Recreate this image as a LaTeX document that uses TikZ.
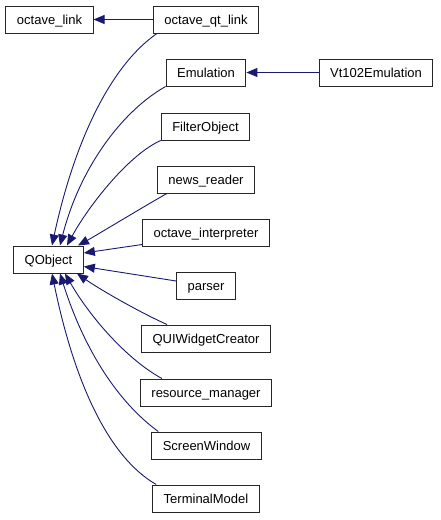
\documentclass[tikz,border=0pt]{standalone}
\usepackage{fontspec}
\setmainfont{Liberation Sans}
\usepackage{xcolor}
\usetikzlibrary{arrows.meta}
\definecolor{edgeblue}{HTML}{191970}

\begin{document}
\begin{tikzpicture}[x=1pt, y=-1pt,
  every node/.style={font=\fontsize{13}{15}\selectfont},
  cls/.style={draw=black!85, line width=1pt, fill=white, minimum height=27pt, inner xsep=11pt, inner ysep=0pt, text height=11.5pt, text depth=2.2pt},
  edge/.style={draw=edgeblue, line width=0.9pt, -{Triangle[length=11pt,width=9pt]}}
]
\useasboundingbox (0,0) rectangle (440,520);
% ---- base classes ----
\node[cls] (octlink) at (49.5,19.5) {octave\_link};
\node[cls] (qobject) at (48.5,259.5) {QObject};
% ---- derived classes ----
\node[cls] (qtlink) at (206,19.5) {octave\_qt\_link};
\node[cls] (emul) at (206,72.5) {Emulation};
\node[cls] (vt102) at (376,72.5) {Vt102Emulation};
\node[cls] (filter) at (205.5,126.5) {FilterObject};
\node[cls] (news) at (206,179.5) {news\_reader};
\node[cls] (interp) at (206,232.5) {octave\_interpreter};
\node[cls] (parser) at (206,285.5) {parser};
\node[cls] (quiw) at (206,338.5) {QUIWidgetCreator};
\node[cls] (resm) at (206,392.5) {resource\_manager};
\node[cls] (screen) at (206.5,445.5) {ScreenWindow};
\node[cls] (term) at (206,498.5) {TerminalModel};
% ---- straight edges ----
\draw[edge] (qtlink.west) -- (octlink.east);
\draw[edge] (vt102.west) -- (emul.east);
\draw[edge] ([yshift=2pt]interp.south west) -- ([yshift=6.5pt]qobject.east);
\draw[edge] ([yshift=4.5pt]parser.west) -- ([yshift=-7pt]qobject.east);
% ---- curved edges into QObject ----
\draw[edge] ([xshift=4pt]qtlink.south west) .. controls +(-49,34) and +(21,-98) .. ([xshift=3.5pt]qobject.north);
\draw[edge] (emul.south west) .. controls +(-43.5,24.5) and +(20,-78) .. ([xshift=11.5pt]qobject.north);
\draw[edge] (filter.south west) .. controls +(-32,14) and +(21.6,-39.6) .. ([xshift=18.5pt]qobject.north);
\draw[edge] ([xshift=10pt]news.south west) .. controls +(-18,10) and +(18,-10) .. ([xshift=29.5pt]qobject.north);
\draw[edge] ([xshift=26pt]quiw.north west) .. controls +(-27,-12) and +(23,16) .. ([xshift=28.5pt]qobject.south);
\draw[edge] ([xshift=22pt]resm.north west) .. controls +(-35,-19) and +(25,43.5) .. ([xshift=16.5pt]qobject.south);
\draw[edge] ([xshift=7pt]screen.north west) .. controls +(-40.5,-29.5) and +(24,76) .. ([xshift=11.5pt]qobject.south);
\draw[edge] ([xshift=4pt]term.north west) .. controls +(-48,-27.5) and +(22,108) .. ([xshift=3.5pt]qobject.south);
\end{tikzpicture}
\end{document}
